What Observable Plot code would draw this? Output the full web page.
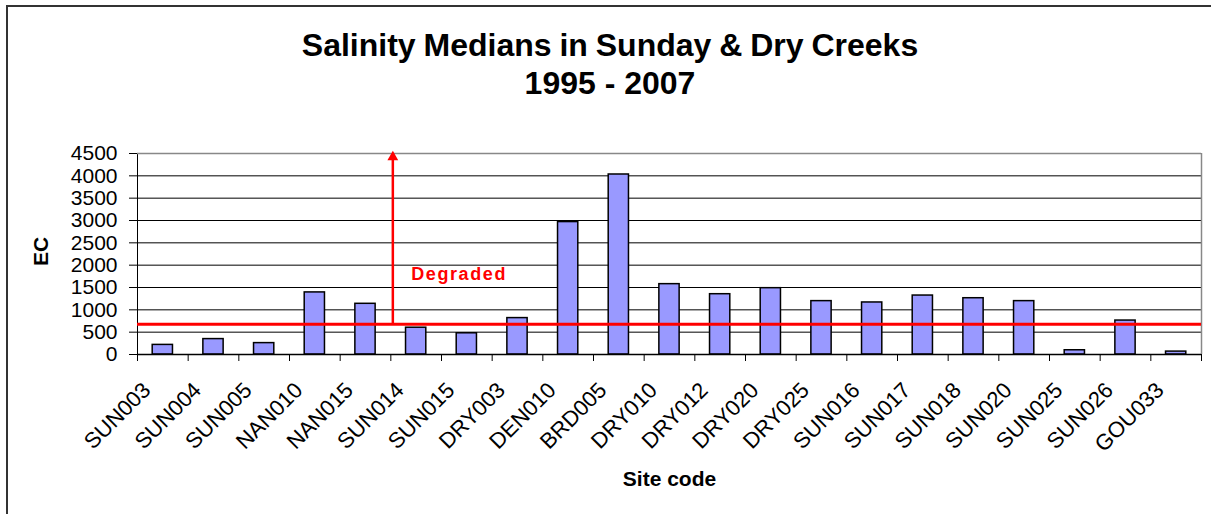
<!DOCTYPE html>
<html>
<head>
<meta charset="utf-8">
<script src="https://cdn.jsdelivr.net/npm/d3@7"></script>
<script src="https://cdn.jsdelivr.net/npm/@observablehq/plot@0.6"></script>
<style>
  html, body { margin: 0; padding: 0; background: #fff; }
  #wrap { position: relative; width: 1211px; height: 514px; overflow: hidden; font-family: "Liberation Sans", Arial, sans-serif; }
  #frame { position: absolute; left: 6px; top: 5px; right: -5px; bottom: -5px; border-left: 2px solid #333; border-top: 2px solid #333; pointer-events: none; }
  #title { height: 110px; box-sizing: border-box; padding-top: 26px; width: 1220px; text-align: center; font-weight: bold; font-size: 32px; line-height: 38px; color: #000; }
  #title .l1 { word-spacing: -1px; }
  svg { display: block; }
</style>
</head>
<body>
<div id="wrap">
  <div id="title"><div class="l1">Salinity Medians in Sunday &amp; Dry Creeks</div><div>1995 - 2007</div></div>
  <div id="chart"></div>
  <div id="frame"></div>
</div>
<script>
const sites = ["SUN003","SUN004","SUN005","NAN010","NAN015","SUN014","SUN015","DRY003","DEN010","BRD005","DRY010","DRY012","DRY020","DRY025","SUN016","SUN017","SUN018","SUN020","SUN025","SUN026","GOU033"];
const ecValues = [215, 345, 255, 1390, 1135, 600, 475, 815, 2965, 4030, 1575, 1350, 1485, 1195, 1165, 1320, 1260, 1195, 95, 760, 65];
const yTicks = [0, 500, 1000, 1500, 2000, 2500, 3000, 3500, 4000, 4500];
const threshold = 680;
const degradedLabel = "Degraded";
const degradedSite = "SUN014";
const arrowTop = 4420;
const yLabel = "EC";
const xLabel = "Site code";

const data = sites.map((s, i) => ({site: s, ec: ecValues[i]}));

const W = 1211, H = 404, mL = 137, mR = 10, mT = 43, mB = 160;
const padIn = 0.6, padOut = 0.3;
const step = (W - mL - mR) / (sites.length - padIn + 2 * padOut);
const red = "#FF0000";
const font = "'Liberation Sans', Arial, sans-serif";

const chart = Plot.plot({
  width: W, height: H,
  marginLeft: mL, marginRight: mR, marginTop: mT, marginBottom: mB,
  style: {fontFamily: font, fontSize: "21px", color: "#000", background: "transparent"},
  x: {type: "band", domain: sites, paddingInner: padIn, paddingOuter: padOut, round: false, axis: null},
  y: {domain: [0, 4500], ticks: yTicks, tickSize: 8, tickPadding: 12, tickFormat: d => String(d), label: null, line: true},
  marks: [
    Plot.ruleY(yTicks.filter(v => v > 0 && v < 4500), {stroke: "#000", strokeWidth: 1}),
    Plot.ruleY([4500], {stroke: "#888", strokeWidth: 1.5}),
    Plot.ruleX([sites[sites.length - 1]], {x: d => d, y1: 0, y2: 4500, dx: step / 2, stroke: "#888", strokeWidth: 1.5}),
    Plot.barY(data, {x: "site", y: "ec", fill: "#9999FF", stroke: "#000", strokeWidth: 1.5}),
    Plot.ruleY([0], {stroke: "#000", strokeWidth: 1.5}),
    Plot.ruleX(sites, {x: d => d, y1: 0, y2: 0, dx: -step / 2, insetBottom: -7, stroke: "#000", strokeWidth: 1}),
    Plot.ruleX([sites[sites.length - 1]], {x: d => d, y1: 0, y2: 0, dx: step / 2, insetBottom: -7, stroke: "#000", strokeWidth: 1}),
    Plot.ruleY([threshold], {stroke: red, strokeWidth: 3}),
    Plot.ruleX([degradedSite], {x: d => d, y1: threshold, y2: arrowTop, dx: -step / 2 + 2, stroke: red, strokeWidth: 2.5}),
    Plot.dot([degradedSite], {x: d => d, y: () => arrowTop, dx: -step / 2 + 2, symbol: "triangle", r: 4, fill: red, stroke: "none"}),
    Plot.text([degradedLabel], {x: () => degradedSite, y: () => 1800, text: d => d, dx: -5, textAnchor: "start", fill: red, fontWeight: "bold", fontSize: 18}),
    Plot.text(sites, {x: d => d, frameAnchor: "bottom", text: d => d, rotate: -45, textAnchor: "end", dx: -11, dy: 37, fontSize: 22, fill: "#000"}),
    Plot.text([yLabel], {frameAnchor: "left", text: d => d, rotate: -90, dx: -96, dy: 12, fontWeight: "bold", fontSize: 21, fill: "#000"}),
    Plot.text([xLabel], {frameAnchor: "bottom", text: d => d, dy: 131, fontWeight: "bold", fontSize: 21, fill: "#000"})
  ]
});
d3.select(chart).selectAll("text").filter(function() { return this.textContent === degradedLabel; }).style("letter-spacing", "1.6px");
document.getElementById("chart").appendChild(chart);
</script>
</body>
</html>
